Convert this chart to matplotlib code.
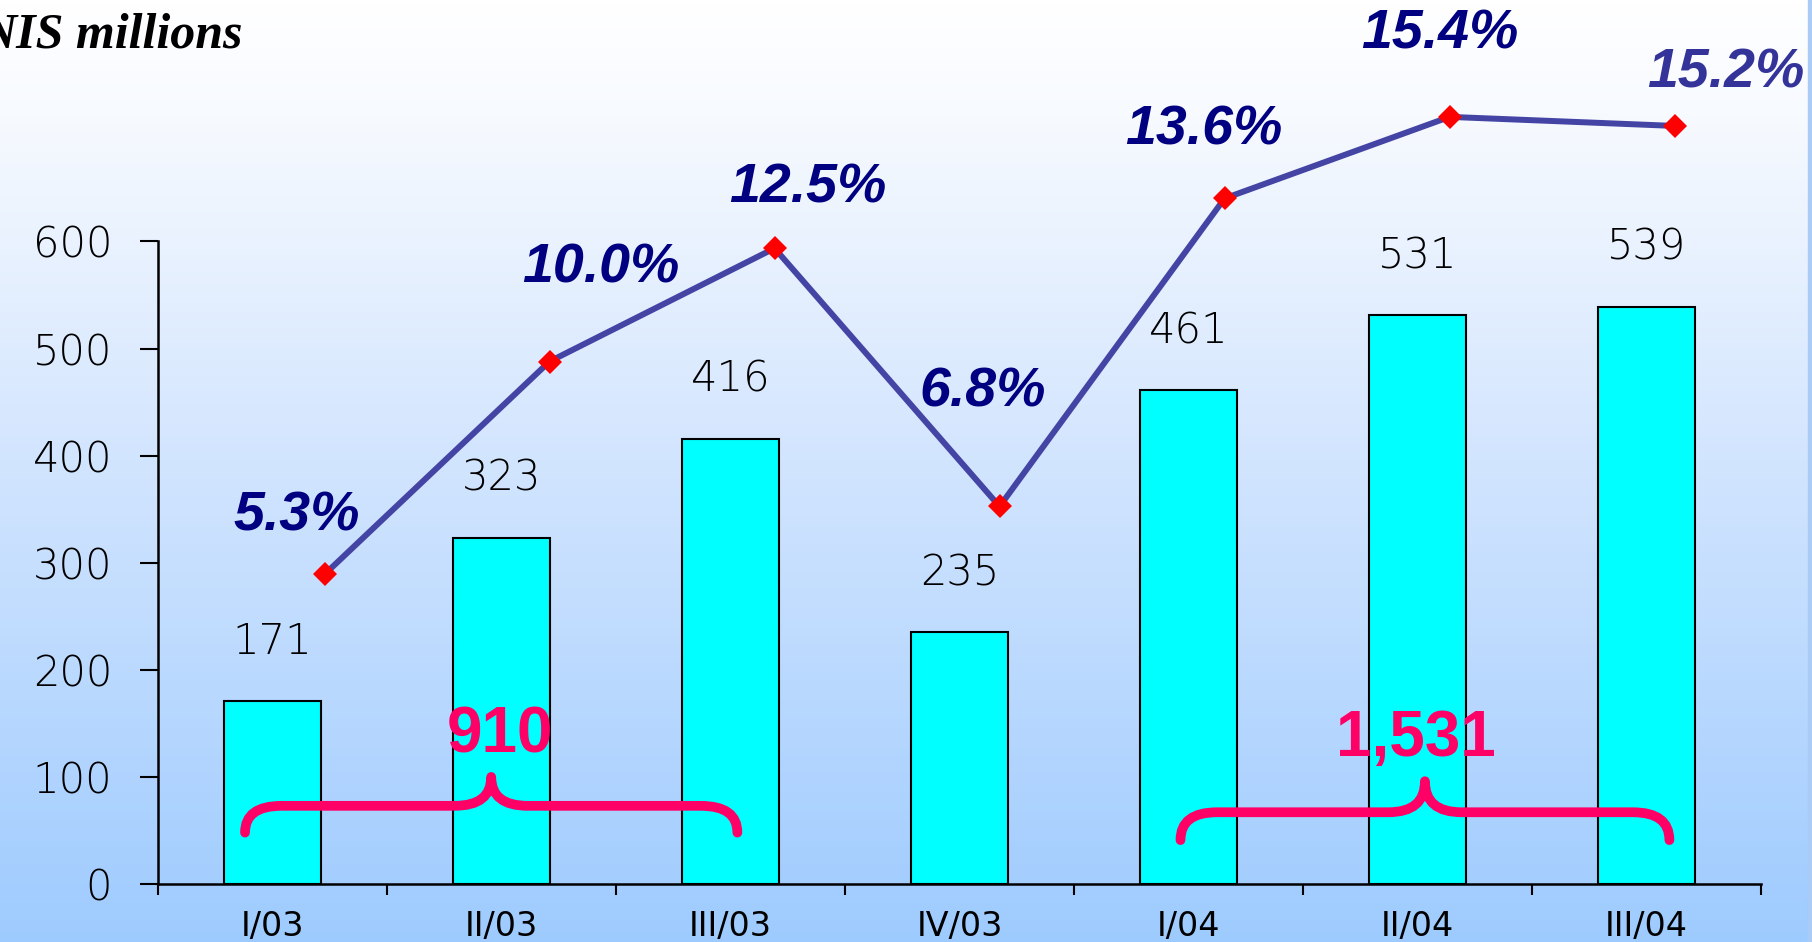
import matplotlib
matplotlib.use("Agg")
import matplotlib.pyplot as plt
import numpy as np
from matplotlib.path import Path
from matplotlib.patches import PathPatch
from matplotlib.colors import LinearSegmentedColormap

# ---------------- data ----------------
categories = ["I/03", "II/03", "III/03", "IV/03", "I/04", "II/04", "III/04"]
values = [171, 323, 416, 235, 461, 531, 539]
margins = [5.3, 10.0, 12.5, 6.8, 13.6, 15.4, 15.2]
margin_labels = ["5.3%", "10.0%", "12.5%", "6.8%", "13.6%", "15.4%", "15.2%"]
groups = [(0, 2), (4, 6)]          # bracketed category ranges
yticks = [0, 100, 200, 300, 400, 500, 600]
unit_label = "NIS millions"

# ---------------- layout / style ----------------
W, H, DPI = 1812, 942, 100
fig = plt.figure(figsize=(W / DPI, H / DPI), dpi=DPI)

# background gradient
bg = fig.add_axes([0, 0, 1, 1], zorder=-10)
cmap = LinearSegmentedColormap.from_list(
    "bg", [(0.0, "#FFFFFF"), (0.12, "#F7FAFF"), (0.45, "#D6E7FE"), (1.0, "#9ECBFF")])
grad = np.linspace(0, 1, 256).reshape(-1, 1)
bg.imshow(grad, aspect="auto", cmap=cmap, extent=[0, 1, 1, 0])
bg.set_xlim(0, 1)
bg.set_ylim(1, 0)
bg.axis("off")
# thin strip at right edge
bg.axvspan(1 - 4 / W, 1, color="#A9CBF5", zorder=2)

ax_left = 158 / W
ax_right = 1761 / W
ax_bottom = (H - 884) / H
ax = fig.add_axes([ax_left, ax_bottom, ax_right - ax_left, 1 - ax_bottom])
ax.patch.set_alpha(0)

x = np.arange(len(categories))
bars = ax.bar(x, values, width=0.42, color="#00FFFF", edgecolor="black",
              linewidth=1.5, zorder=3)
ax.set_xlim(-0.5, len(categories) - 0.5)
ax.set_ylim(0, 825.5)

for spine in ("top", "right"):
    ax.spines[spine].set_visible(False)
ax.spines["left"].set_bounds(0, 600)
ax.spines["left"].set_linewidth(1.8)
ax.spines["bottom"].set_linewidth(1.8)

num_font = dict(family="DejaVu Sans", weight="light")

ax.set_yticks(yticks)
ax.set_yticklabels([str(t) for t in yticks])
ax.tick_params(axis="y", direction="out", length=13, width=1.5, pad=20,
               labelsize=30)
for lab in ax.get_yticklabels():
    lab.set_family(num_font["family"])
    lab.set_weight(num_font["weight"])

# x ticks at category boundaries, labels at centres
ax.set_xticks(np.arange(len(categories) + 1) - 0.5)
ax.set_xticklabels([])
ax.set_xticks(x, minor=True)
ax.set_xticklabels(categories, minor=True)
ax.tick_params(axis="x", which="major", direction="out", length=8, width=1.5)
ax.tick_params(axis="x", which="minor", length=0, pad=19, labelsize=24)
for lab in ax.get_xticklabels(minor=True):
    lab.set_family(["Liberation Sans Narrow", "DejaVu Sans"])

# value labels above bars
for xi, v in zip(x, values):
    ax.annotate(str(v), (xi, v), xytext=(0, 43), textcoords="offset points",
                ha="center", va="center", fontsize=30, color="black", zorder=5,
                **num_font)

# brackets with group totals
pink = "#FF0066"


def brace(ax, x0, x1, y_end, y_mid, y_peak, r=0.16):
    xc = (x0 + x1) / 2
    verts = [(x0, y_end), (x0, y_mid), (x0 + r, y_mid),
             (xc - r, y_mid), (xc, y_mid), (xc, y_peak),
             (xc, y_mid), (xc + r, y_mid),
             (x1 - r, y_mid), (x1, y_mid), (x1, y_end)]
    codes = [Path.MOVETO, Path.CURVE3, Path.CURVE3,
             Path.LINETO, Path.CURVE3, Path.CURVE3,
             Path.CURVE3, Path.CURVE3,
             Path.LINETO, Path.CURVE3, Path.CURVE3]
    patch = PathPatch(Path(verts, codes), facecolor="none", edgecolor=pink,
                      linewidth=7, capstyle="round", joinstyle="round", zorder=6)
    ax.add_patch(patch)


brace_geom = [(-0.12, 0.03, 48, 73, 100, 139, 0.04),
              (-0.035, 0.10, 41, 67, 96, 135, -0.04)]
for (a, b), (dl, dr, ye, ym, yp, yt, tdx) in zip(groups, brace_geom):
    brace(ax, a + dl, b + dr, ye, ym, yp)
    total = sum(values[a:b + 1])
    ax.text((a + dl + b + dr) / 2 + tdx, yt, f"{total:,}", ha="center", va="center",
            fontsize=46, fontweight="bold", color=pink,
            family=["Liberation Sans", "DejaVu Sans"], zorder=7)

# margin line on its own axes
ax2 = fig.add_axes(ax.get_position(), zorder=4)
ax2.patch.set_alpha(0)
ax2.axis("off")
ax2.set_xlim(-0.74, 6.384)
ax2.set_ylim(-1.534, 17.98)
ax2.plot(x, margins, color="#4444A4", linewidth=4.3, zorder=3,
         solid_joinstyle="round")
ax2.plot(x, margins, linestyle="none", marker="D", markersize=12,
         color="#FF0000", markeredgewidth=0, zorder=4)

label_offsets = [(-20, 42), (37, 67), (24, 43), (-12, 82), (-15, 49), (-7, 59), (37, 38)]
label_colors = ["#000080"] * 6 + ["#333399"]
for xi, m, lab, off, col in zip(x, margins, margin_labels, label_offsets, label_colors):
    ax2.annotate(lab, (xi, m), xytext=off, textcoords="offset points",
                 ha="center", va="center", fontsize=40, fontweight="bold",
                 fontstyle="italic", color=col,
                 family=["Liberation Sans", "DejaVu Sans"], zorder=5)

fig.text(243 / W, 1 - 35 / H, unit_label, ha="right", va="center",
         fontsize=36, fontweight="bold", fontstyle="italic",
         family=["Liberation Serif", "DejaVu Serif"], color="black")

fig.savefig("out.png", dpi=DPI)
